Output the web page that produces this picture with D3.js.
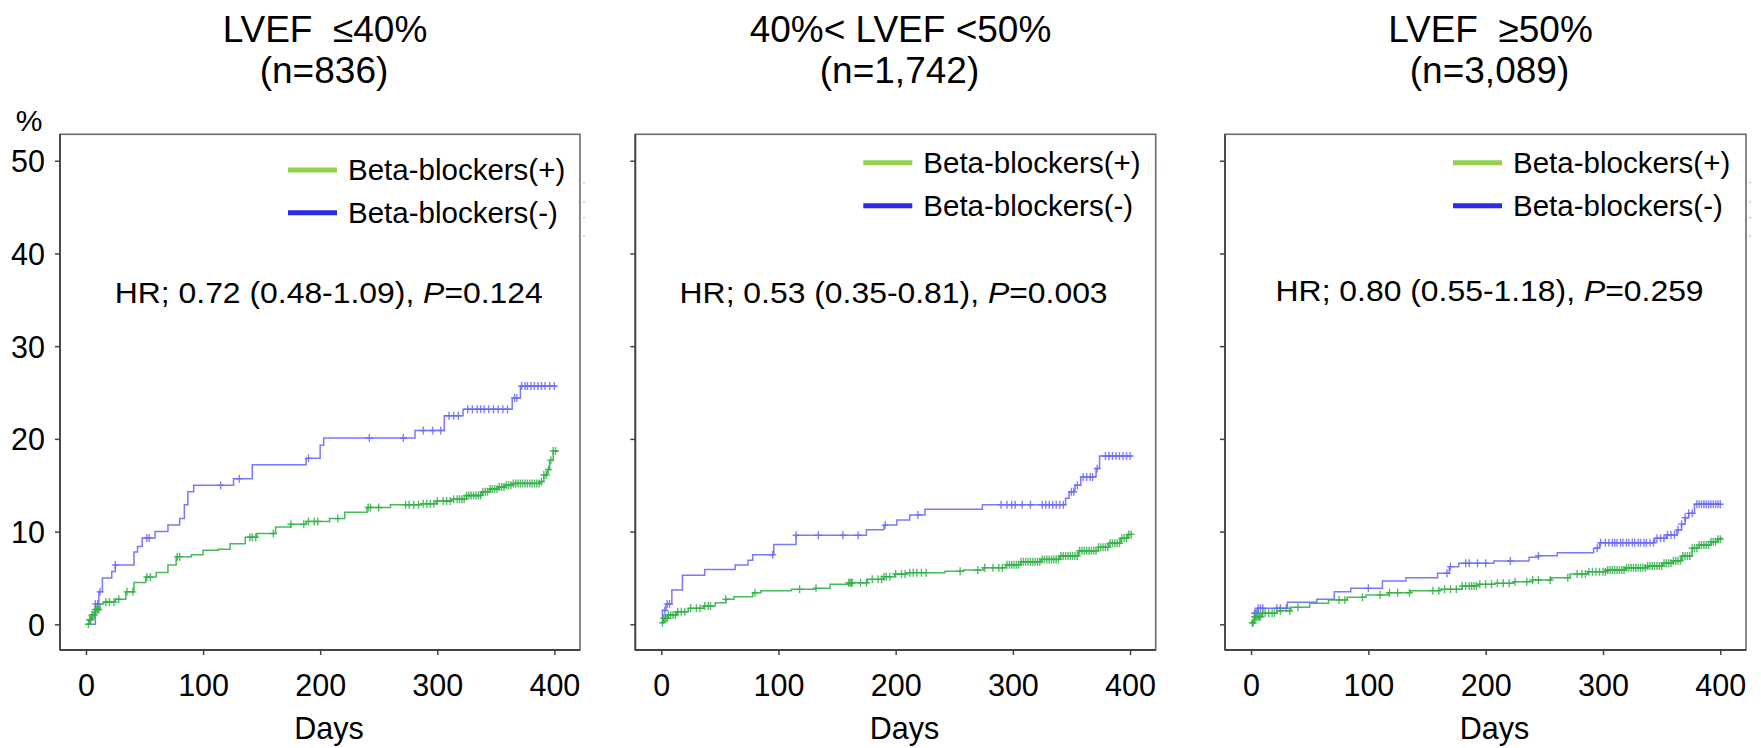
<!DOCTYPE html>
<html>
<head>
<meta charset="utf-8">
<script src="https://cdn.jsdelivr.net/npm/d3@7"></script>
<style>
  html, body { margin: 0; padding: 0; background: #fff; }
  svg { display: block; font-family: "Liberation Sans", Arial, sans-serif; }
</style>
</head>
<body>
<svg id="chart" width="1761" height="748"></svg>
<script>
// ---------------- data ----------------
const panelTitles = ["LVEF\u00A0 \u226440%", "40%< LVEF <50%", "LVEF\u00A0 \u226550%"];
const panelCounts = ["(n=836)", "(n=1,742)", "(n=3,089)"];
const hrPrefix = ["HR; 0.72 (0.48-1.09), ", "HR; 0.53 (0.35-0.81), ", "HR; 0.80 (0.55-1.18), "];
const hrP = ["=0.124", "=0.003", "=0.259"];
const seriesNames = ["Beta-blockers(+)", "Beta-blockers(-)"];
const xTicks = [0, 100, 200, 300, 400];
const yTicks = [0, 10, 20, 30, 40, 50];
const xLabel = "Days";
const yLabel = "%";

// cumulative incidence (%) step points [day, value]
const p1Plus = [[0,0],[3,0.5],[5,1.0],[8,1.6],[12,2.2],[15,2.4],[25,2.7],[34,3.5],[41,4.5],[51,5.1],[60,5.6],[70,6.4],[77,7.3],[90,7.5],[100,8.0],[113,8.1],[123,8.7],[136,9.4],[146,9.8],[162,10.5],[175,10.8],[188,11.1],[208,11.4],[221,12.1],[240,12.6],[260,12.9],[286,13.0],[299,13.3],[312,13.5],[325,13.9],[338,14.3],[345,14.6],[352,14.8],[358,15.0],[365,15.2],[388,15.4],[391,16.1],[394,16.7],[396,17.7],[399,18.7],[403,18.7]];
const p1Minus = [[4,0],[8,2.2],[11,3.5],[14,5.0],[22,5.7],[25,6.4],[41,7.8],[44,8.4],[48,9.3],[59,10.0],[70,10.7],[80,11.4],[84,12.9],[87,14.3],[92,15.0],[126,15.7],[142,17.2],[188,17.9],[200,19.3],[203,20.1],[281,20.9],[306,22.5],[322,23.2],[364,24.4],[371,25.7],[402,25.7]];
const p2Plus = [[0,0.17],[2,0.65],[6,1.0],[13,1.36],[23,1.72],[36,1.97],[46,2.33],[55,2.7],[62,2.98],[78,3.41],[85,3.63],[111,3.77],[131,3.88],[144,4.31],[160,4.49],[176,4.85],[190,5.14],[199,5.43],[209,5.57],[242,5.72],[258,5.86],[275,6.1],[294,6.43],[307,6.75],[324,7.0],[340,7.37],[356,7.94],[373,8.3],[382,8.74],[392,9.28],[398,9.7],[402,9.7]];
const p2Minus = [[0,0.2],[1,1.5],[4,2.2],[9,3.7],[18,5.3],[37,5.9],[63,6.4],[74,6.9],[78,7.5],[96,8.6],[115,9.6],[175,10.2],[190,10.7],[201,11.25],[212,11.8],[225,12.4],[274,12.9],[345,13.6],[348,14.3],[353,15.0],[358,15.9],[371,16.8],[374,18.15],[402,18.15]];
const p3Plus = [[0,0.17],[3,0.82],[9,1.19],[22,1.47],[34,1.83],[50,2.27],[66,2.62],[82,2.91],[98,3.16],[117,3.41],[136,3.63],[161,3.77],[180,4.13],[193,4.31],[208,4.42],[224,4.6],[240,4.78],[256,5.03],[272,5.43],[287,5.68],[303,5.86],[319,6.1],[338,6.29],[351,6.58],[360,6.86],[367,7.37],[376,8.2],[382,8.55],[392,8.91],[398,9.17],[401,9.38]];
const p3Minus = [[0,0.28],[3,1.19],[6,1.73],[31,2.37],[56,2.7],[71,3.52],[85,3.88],[112,4.67],[132,5.03],[159,5.5],[169,6.22],[177,6.58],[207,6.83],[237,7.23],[245,7.4],[261,7.73],[292,8.2],[297,8.8],[344,9.28],[354,9.63],[363,10.17],[367,10.8],[370,11.5],[373,11.97],[378,12.95],[401,12.95]];

// censoring times (days)
const p1PlusCens = [2,3,4,5,6,7,8,9,10,11,17,20,24,28,35,40,52,55,78,80,140,142,145,160,175,186,190,195,198,215,241,243,250,273,276,280,284,288,291,294,297,300,305,308,311,314,317,319,321,323,325,327,329,331,333,335,337,339,341,343,345,347,349,351,353,355,357,359,361,363,365,367,369,371,373,375,377,379,381,383,385,387,389,391,393,395,397,399,401];
const p1MinusCens = [8,10,12,25,52,54,115,131,190,242,271,288,296,303,310,314,318,326,330,334,337,340,344,348,352,356,360,366,368,372,375,377,380,383,386,389,392,396,400];
const p2PlusCens = [1,2,3,4,5,6,8,10,12,14,17,20,25,30,33,37,40,42,55,80,118,132,160,161,162,163,170,175,180,185,188,190,192,195,200,205,208,212,215,218,222,226,255,270,276,283,288,291,295,297,299,301,303,305,307,309,311,313,315,317,319,321,323,325,327,329,331,333,335,337,339,341,343,345,347,349,351,353,355,357,359,361,363,365,367,369,371,373,375,377,379,381,383,385,387,389,391,393,395,397,399,401];
const p2MinusCens = [3,5,7,95,115,134,155,168,191,219,290,295,299,302,308,315,325,328,331,334,337,340,343,350,352,355,360,363,366,368,372,379,382,385,388,391,394,397,400];
const p3PlusCens = [1,2,3,4,5,6,7,8,10,12,15,18,20,25,33,40,75,80,95,110,118,125,135,155,160,165,170,175,180,183,186,188,190,192,195,200,205,210,215,220,225,235,240,245,255,270,278,282,285,288,291,294,297,300,302,304,306,308,310,312,314,316,318,320,322,324,326,328,330,332,334,336,338,340,342,344,346,348,350,352,354,356,358,360,362,364,366,368,370,372,374,376,378,380,382,384,386,388,390,392,394,396,398,400];
const p3MinusCens = [3,4,5,6,8,10,22,25,30,100,167,170,183,186,193,200,221,245,295,298,302,305,308,310,312,315,317,320,322,325,327,330,332,335,337,340,343,346,349,352,355,358,361,364,367,370,373,376,380,382,384,386,388,390,392,394,396,398,400];

const panelPlus = [p1Plus, p2Plus, p3Plus];
const panelMinus = [p1Minus, p2Minus, p3Minus];
const panelPlusCens = [p1PlusCens, p2PlusCens, p3PlusCens];
const panelMinusCens = [p1MinusCens, p2MinusCens, p3MinusCens];

// ---------------- layout / style ----------------
const frames = [[60, 580], [635.3, 1155.7], [1225, 1746]];
const frameTop = 134.3, frameBottom = 650;
const xDomain = [-22.2, 421.9];
const yDomain = [-2.77, 52.85];
const legendY = [[170, 212.7], [162.7, 205.7], [162.7, 205.7]];
const hrPos = [[54.8, 303], [44.3, 303], [50.6, 301]];
const showArtifacts = [true, false, true];

const colPlus = "#33b249", colMinus = "#6a6afb";
const legPlus = "#92d050", legMinus = "#2b2be6";
const TICKFONT = 30.5;

const svg = d3.select("#chart");

function valueAt(steps, day) {
  let v = steps[0][1];
  for (const s of steps) { if (s[0] <= day) v = s[1]; else break; }
  return v;
}

frames.forEach(([L, R], i) => {
  const x = d3.scaleLinear().domain(xDomain).range([L, R]);
  const y = d3.scaleLinear().domain(yDomain).range([frameBottom, frameTop]);
  const g = svg.append("g");
  const cx = (L + R) / 2;

  // titles
  g.append("text").attr("x", cx + 5).attr("y", 42).attr("text-anchor", "middle")
    .attr("font-size", 37).attr("fill", "#000").text(panelTitles[i]);
  g.append("text").attr("x", cx + 4).attr("y", 83).attr("text-anchor", "middle")
    .attr("font-size", 37).attr("fill", "#000").text(panelCounts[i]);

  // frame
  g.append("rect").attr("x", L).attr("y", frameTop).attr("width", R - L).attr("height", frameBottom - frameTop)
    .attr("fill", "none").attr("stroke", "#6a6a6a").attr("stroke-width", 1.6);
  g.append("line").attr("x1", L).attr("x2", L).attr("y1", frameTop).attr("y2", frameBottom)
    .attr("stroke", "#444").attr("stroke-width", 1.8);
  g.append("line").attr("x1", L).attr("x2", R).attr("y1", frameBottom).attr("y2", frameBottom)
    .attr("stroke", "#444").attr("stroke-width", 1.8);

  // y axis
  const ya = g.append("g").attr("transform", `translate(${L},0)`)
    .call(d3.axisLeft(y).tickValues(yTicks).tickSize(5).tickPadding(10)
      .tickFormat(d => i === 0 ? String(d) : ""));
  ya.select(".domain").remove();
  ya.selectAll(".tick line").attr("stroke", "#444").attr("stroke-width", 1.5);
  ya.selectAll(".tick text").attr("font-size", TICKFONT).attr("fill", "#000")
    .attr("font-family", "Liberation Sans, Arial, sans-serif").attr("dy", "0.36em");

  // x axis
  const xa = g.append("g").attr("transform", `translate(0,${frameBottom})`)
    .call(d3.axisBottom(x).tickValues(xTicks).tickSize(5).tickPadding(19));
  xa.select(".domain").remove();
  xa.selectAll(".tick line").attr("stroke", "#444").attr("stroke-width", 1.5);
  xa.selectAll(".tick text").attr("font-size", TICKFONT).attr("fill", "#000")
    .attr("font-family", "Liberation Sans, Arial, sans-serif");

  g.append("text").attr("x", cx + 9).attr("y", 739).attr("text-anchor", "middle")
    .attr("font-size", 30.5).attr("fill", "#000").text(xLabel);

  if (i === 0) {
    g.append("text").attr("x", 29).attr("y", 131).attr("text-anchor", "middle")
      .attr("font-size", 30).attr("fill", "#000").text(yLabel);
  }

  // curves
  const line = d3.line().curve(d3.curveStepAfter).x(d => x(d[0])).y(d => y(d[1]));
  const drawSeries = (steps, cens, col) => {
    g.append("path").datum(steps).attr("d", line).attr("fill", "none")
      .attr("stroke", col).attr("stroke-width", 1.5).attr("stroke-opacity", 0.9);
    g.append("g").selectAll("path").data(cens).join("path")
      .attr("d", d => {
        const px = x(d), py = y(valueAt(steps, d));
        return `M${px - 3.5},${py}H${px + 3.5}M${px},${py - 4}V${py + 4}`;
      })
      .attr("stroke", col).attr("stroke-width", 1.4).attr("stroke-opacity", 0.85).attr("fill", "none");
  };
  drawSeries(panelMinus[i], panelMinusCens[i], colMinus);
  drawSeries(panelPlus[i], panelPlusCens[i], colPlus);

  // legend
  const lx = L + 228;
  [[legPlus, seriesNames[0], legendY[i][0]], [legMinus, seriesNames[1], legendY[i][1]]].forEach(([c, t, ly]) => {
    g.append("line").attr("x1", lx).attr("x2", lx + 49).attr("y1", ly).attr("y2", ly)
      .attr("stroke", c).attr("stroke-width", 5);
    g.append("text").attr("x", L + 288).attr("y", ly + 10).attr("font-size", 29.5)
      .attr("fill", "#000").text(t);
  });

  // tiny legend artifacts outside frame
  if (showArtifacts[i]) {
    const ay = [[182.7, colMinus], [202, colPlus], [217.7, colMinus], [236, colPlus]];
    ay.forEach(([yy, c]) => {
      g.append("line").attr("x1", R + 3).attr("x2", R + 5).attr("y1", yy).attr("y2", yy)
        .attr("stroke", c).attr("stroke-width", 1).attr("stroke-opacity", 0.6);
    });
  }

  // HR annotation
  const hr = g.append("text").attr("x", L + hrPos[i][0]).attr("y", hrPos[i][1])
    .attr("font-size", 30).attr("fill", "#000")
    .attr("textLength", 428).attr("lengthAdjust", "spacingAndGlyphs");
  hr.append("tspan").text(hrPrefix[i]);
  hr.append("tspan").attr("font-style", "italic").text("P");
  hr.append("tspan").text(hrP[i]);
});
</script>
</body>
</html>
